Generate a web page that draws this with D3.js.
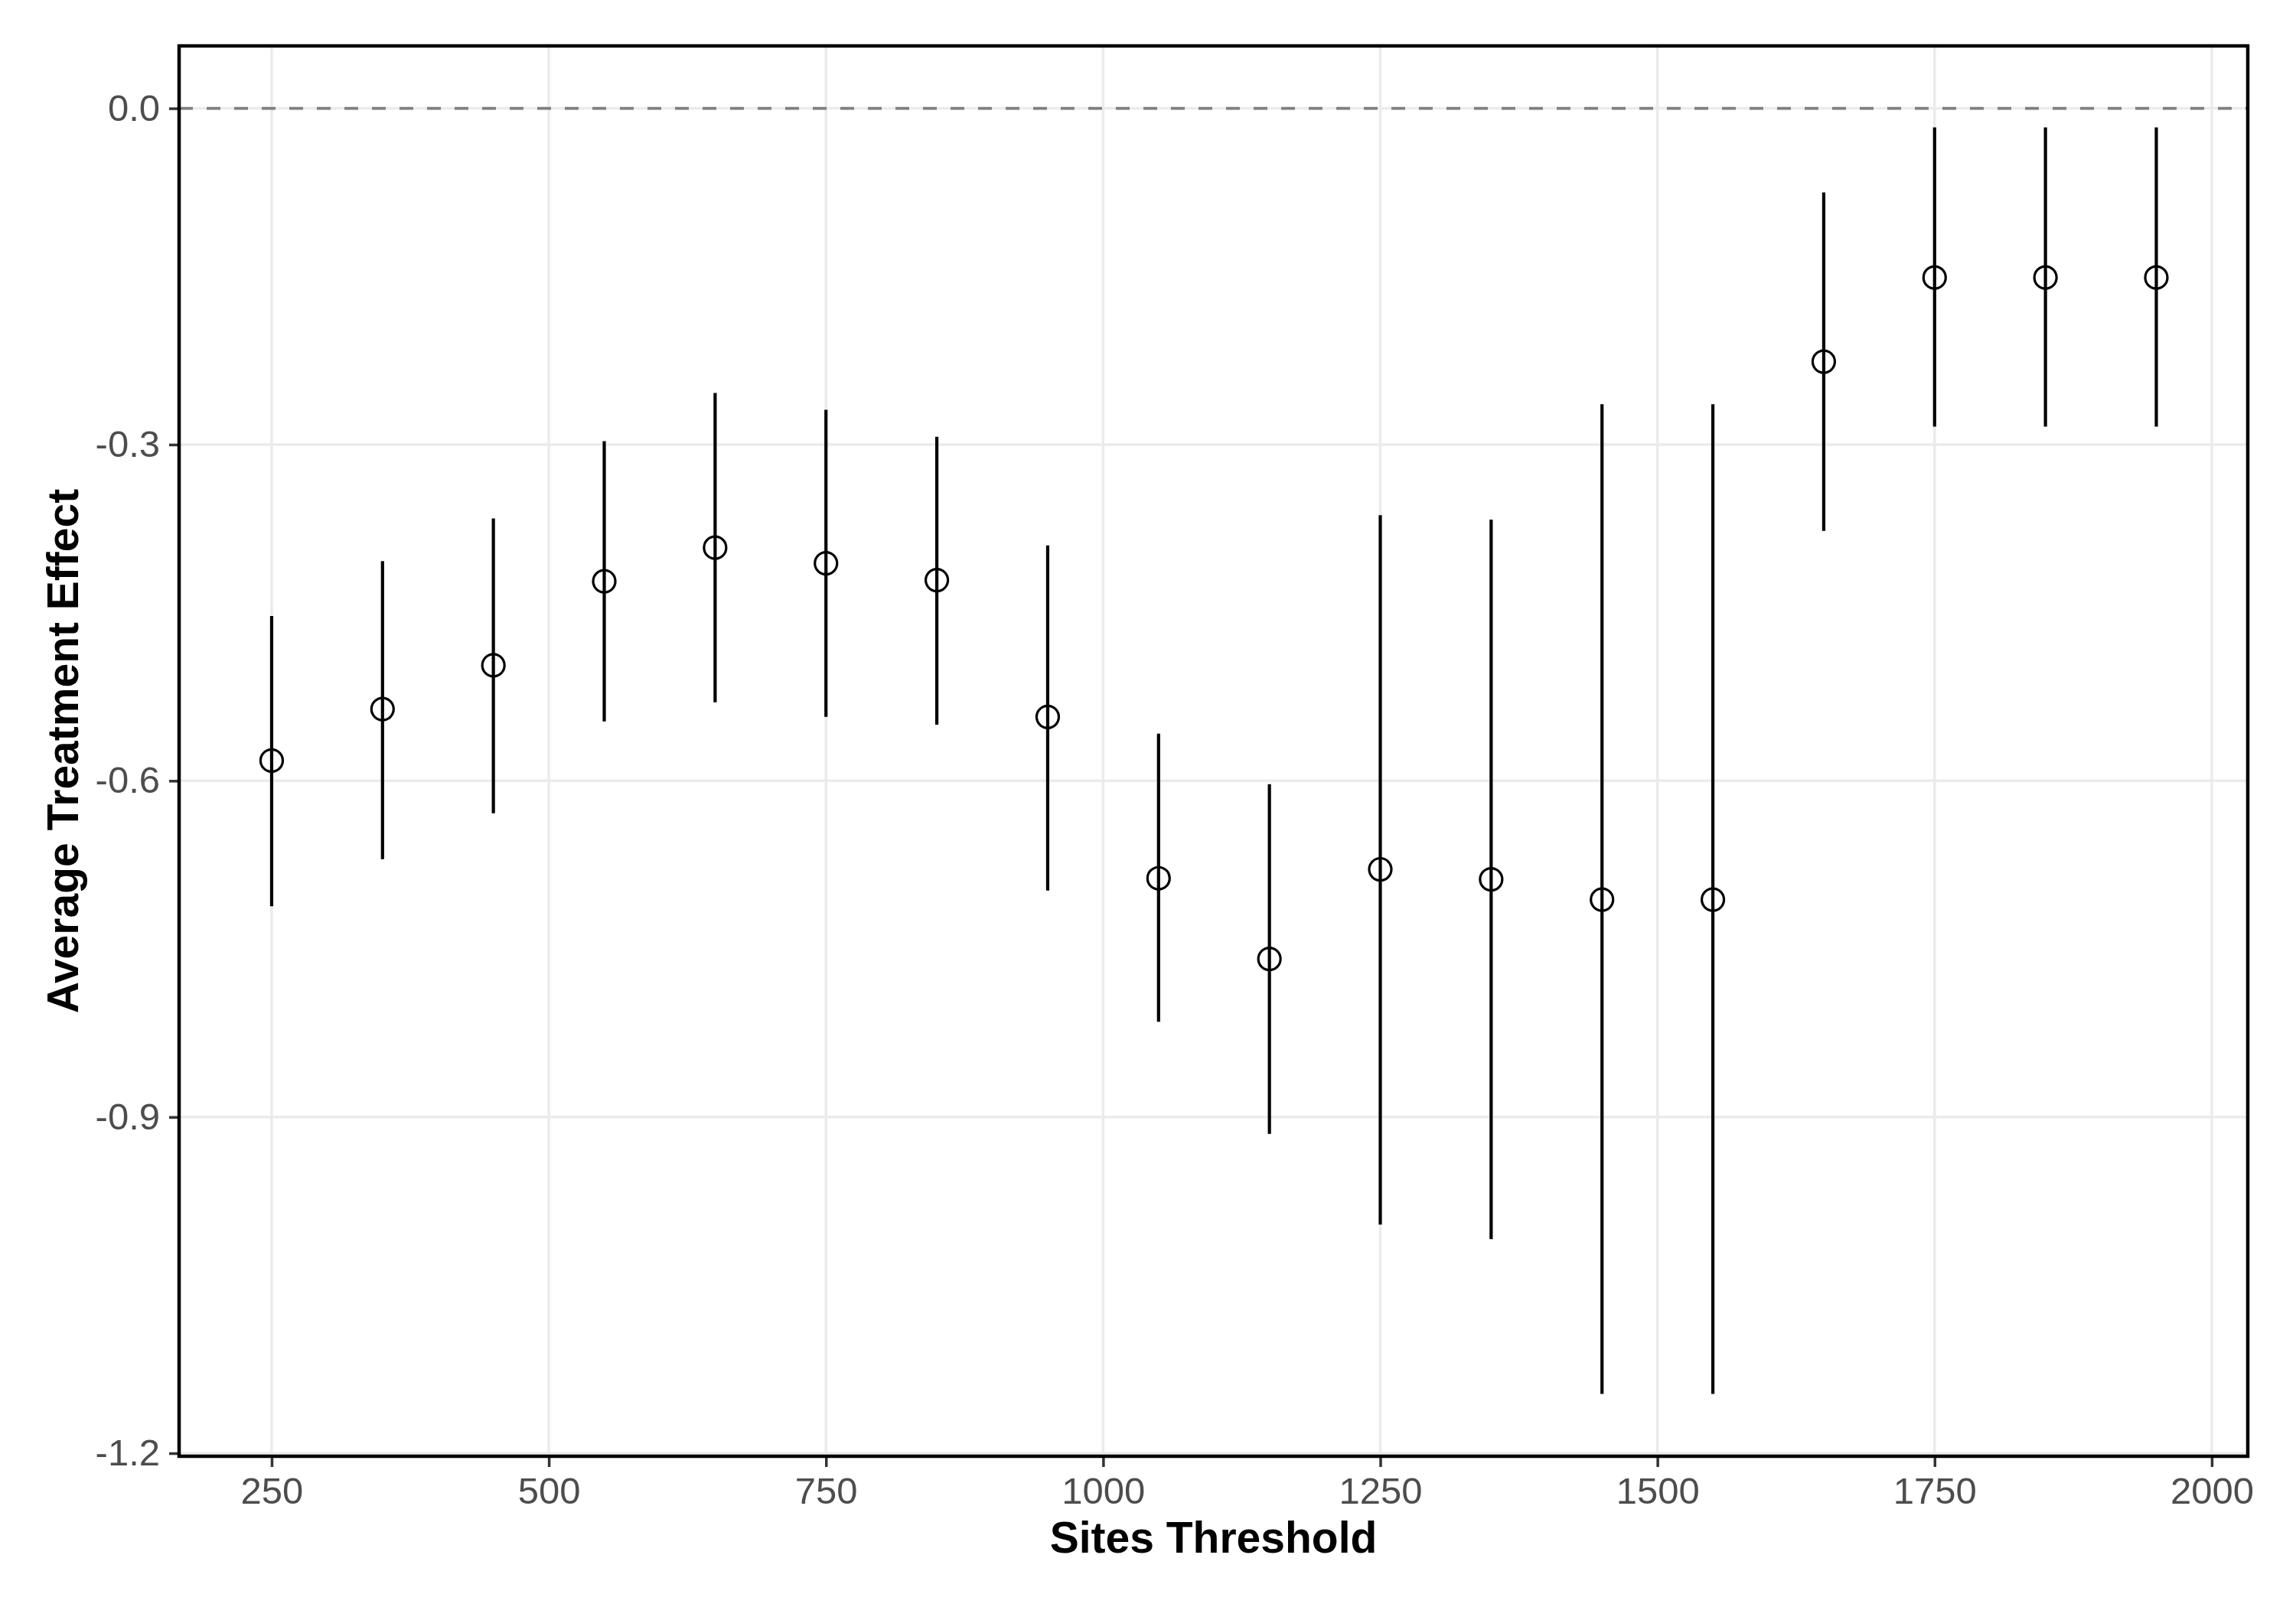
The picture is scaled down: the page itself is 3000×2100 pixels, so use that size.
<!DOCTYPE html>
<meta charset="utf-8">
<style>
  body { margin: 0; background: #fff; }
  .tick text { font-family: "Liberation Sans", Arial, sans-serif; font-size: 49px; fill: #4d4d4d; }
  .tick line { stroke: #333; stroke-width: 3.5px; }
  .axis-title { font-family: "Liberation Sans", Arial, sans-serif; font-size: 57px; font-weight: bold; fill: #000; }
</style>
<body>
<div id="chart"></div>
<script src="https://d3js.org/d3.v7.min.js"></script>
<script>

  // sites threshold on x
  var thresholds = [250, 350, 450, 550, 650, 750, 850, 950, 1050, 1150, 1250, 1350, 1450, 1550, 1650, 1750, 1850, 1950];
  // average treatment effect (point estimate)
  var estimate = [-0.582, -0.536, -0.497, -0.422, -0.392, -0.406, -0.421, -0.543, -0.687, -0.759, -0.679, -0.688, -0.706, -0.706, -0.226, -0.151, -0.151, -0.151];
  // confidence interval bounds
  var lower = [-0.712, -0.670, -0.629, -0.547, -0.530, -0.543, -0.550, -0.698, -0.815, -0.915, -0.996, -1.009, -1.147, -1.147, -0.377, -0.284, -0.284, -0.284];
  var upper = [-0.453, -0.404, -0.366, -0.297, -0.254, -0.269, -0.293, -0.390, -0.558, -0.603, -0.363, -0.367, -0.264, -0.264, -0.075, -0.017, -0.017, -0.017];

  var xTicks = [250, 500, 750, 1000, 1250, 1500, 1750, 2000];
  var yTicks = [0, -0.3, -0.6, -0.9, -1.2];

  var W = 3000, H = 2100;
  var margin = { top: 60, right: 63, bottom: 197, left: 234 },
    width = W - margin.left - margin.right,
    height = H - margin.top - margin.bottom;

  var data = thresholds.map(function (t, i) {
    return { t: t, est: estimate[i], lo: lower[i], hi: upper[i] };
  });

  var x = d3.scaleLinear().domain([166.5, 2032.5]).range([0, width]);
  var y = d3.scaleLinear().domain([-1.2027, 0.0557]).range([height, 0]);

  var svg = d3.select("#chart").append("svg")
    .attr("width", W).attr("height", H);

  var g = svg.append("g")
    .attr("transform", "translate(" + margin.left + "," + margin.top + ")");

  // grid lines
  g.append("g").selectAll("line").data(xTicks).join("line")
    .attr("x1", d => x(d)).attr("x2", d => x(d))
    .attr("y1", 0).attr("y2", height)
    .attr("stroke", "#ebebeb").attr("stroke-width", 3.5);
  g.append("g").selectAll("line").data(yTicks).join("line")
    .attr("x1", 0).attr("x2", width)
    .attr("y1", d => y(d)).attr("y2", d => y(d))
    .attr("stroke", "#ebebeb").attr("stroke-width", 3.5);

  // reference line at zero
  g.append("line")
    .attr("x1", 0).attr("x2", width)
    .attr("y1", y(0)).attr("y2", y(0))
    .attr("stroke", "#7f7f7f").attr("stroke-width", 3.6)
    .attr("stroke-dasharray", "18,18");

  // error bars
  g.append("g").selectAll("line").data(data).join("line")
    .attr("x1", d => x(d.t)).attr("x2", d => x(d.t))
    .attr("y1", d => y(d.lo)).attr("y2", d => y(d.hi))
    .attr("stroke", "#000").attr("stroke-width", 4.2);

  // points
  g.append("g").selectAll("circle").data(data).join("circle")
    .attr("cx", d => x(d.t)).attr("cy", d => y(d.est))
    .attr("r", 14.5)
    .attr("fill", "none").attr("stroke", "#000").attr("stroke-width", 3.2);

  // axes
  var xAxis = g.append("g")
    .attr("transform", "translate(0," + height + ")")
    .call(d3.axisBottom(x).tickValues(xTicks).tickSize(14).tickPadding(13).tickFormat(d3.format("d")));
  xAxis.select(".domain").remove();

  var yAxis = g.append("g")
    .call(d3.axisLeft(y).tickValues(yTicks).tickSize(13).tickPadding(12).tickFormat(d3.format(".1f")));
  yAxis.select(".domain").remove();
  yAxis.selectAll(".tick text").text(d => d3.format(".1f")(d).replace("−", "-"));

  // panel border
  g.append("rect")
    .attr("x", 0).attr("y", 0)
    .attr("width", width).attr("height", height)
    .attr("fill", "none").attr("stroke", "#000").attr("stroke-width", 4.5);

  // axis titles
  svg.append("text")
    .attr("class", "axis-title")
    .attr("x", margin.left + width / 2)
    .attr("y", 2029)
    .attr("text-anchor", "middle")
    .text("Sites Threshold");

  svg.append("text")
    .attr("class", "axis-title")
    .attr("transform", "translate(102," + (margin.top + height / 2) + ") rotate(-90)")
    .attr("text-anchor", "middle")
    .text("Average Treatment Effect");

</script>
</body>
